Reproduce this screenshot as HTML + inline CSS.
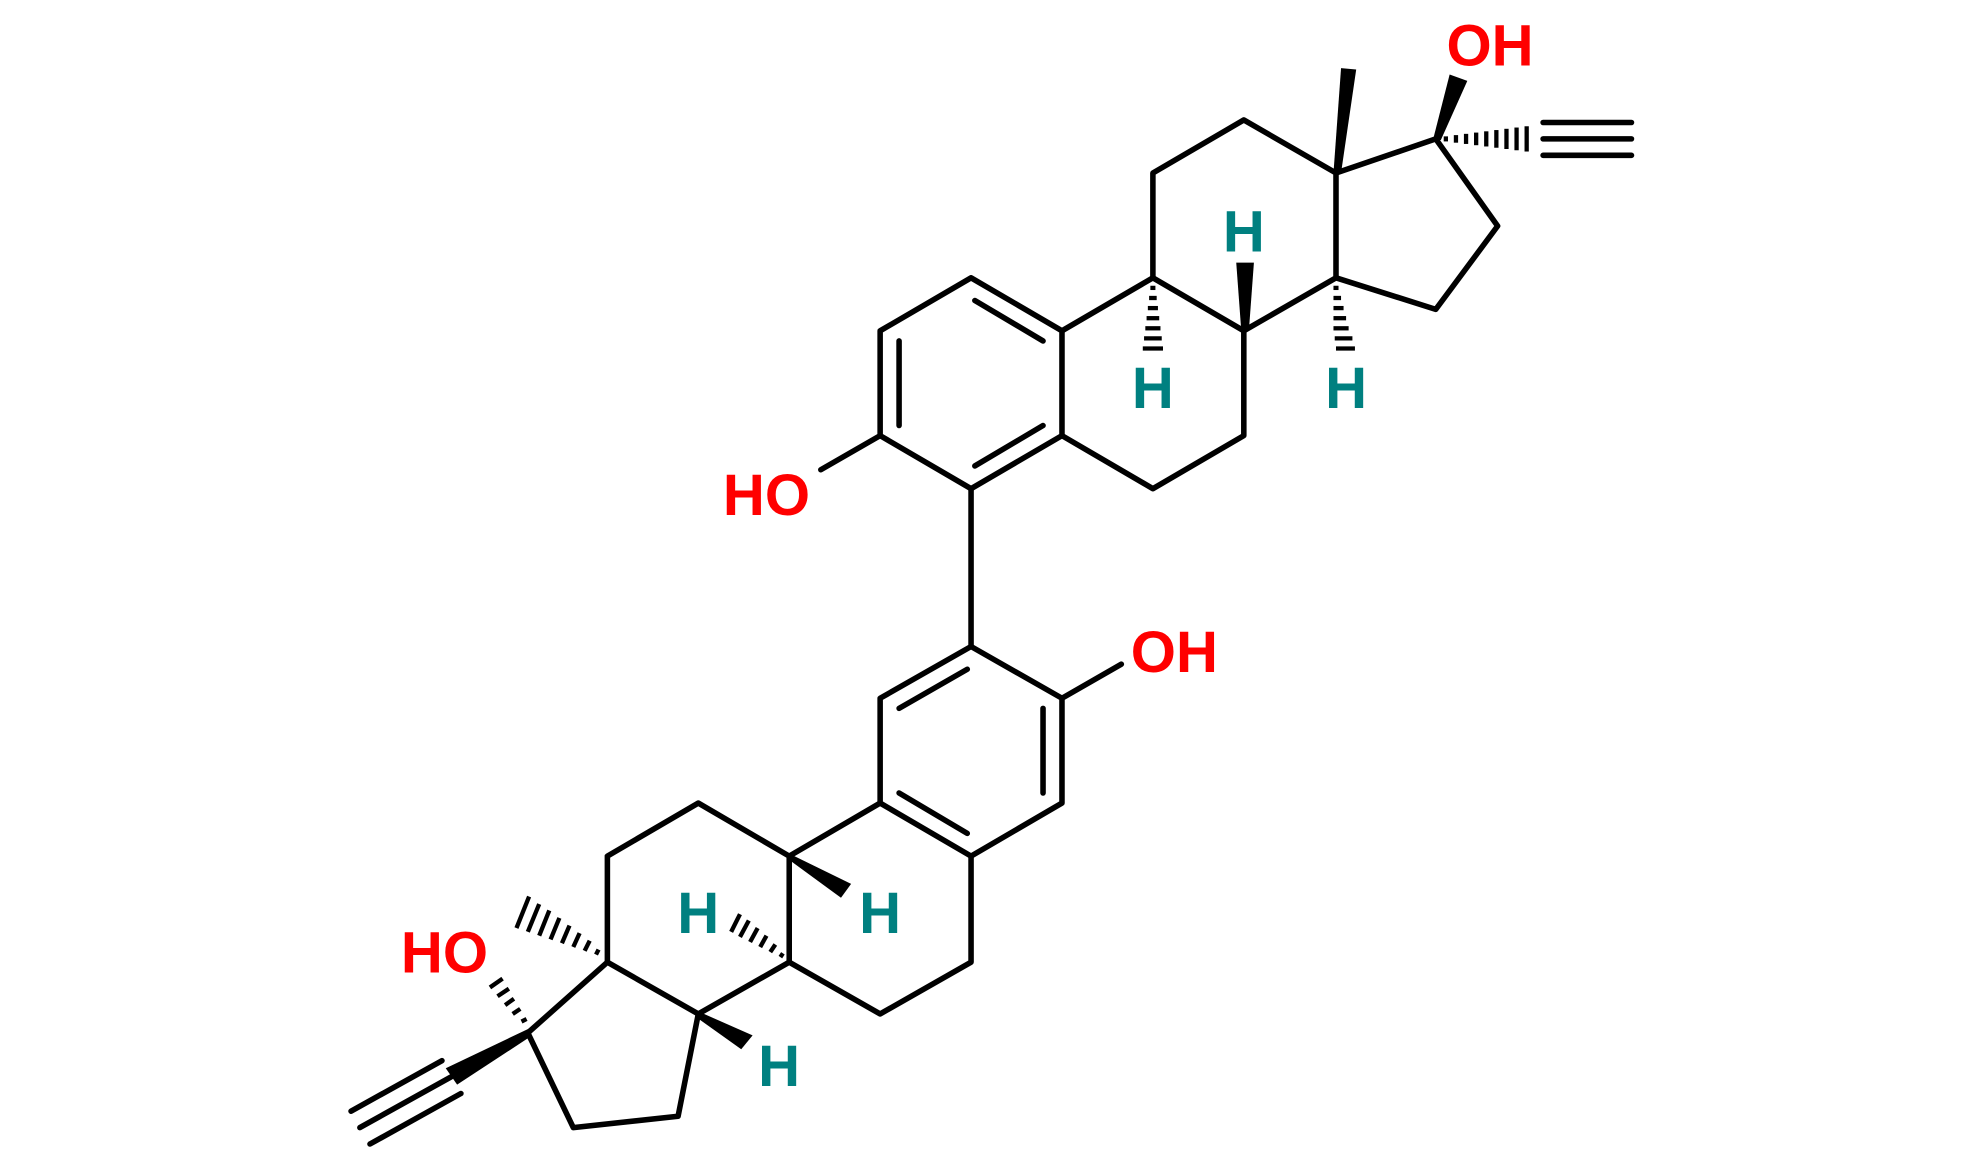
<!DOCTYPE html>
<html><head><meta charset="utf-8"><style>html,body{margin:0;padding:0;background:#fff}svg{display:block}</style></head>
<body>
<svg width="1980" height="1156" viewBox="0 0 1568 915.5" preserveAspectRatio="none" xmlns="http://www.w3.org/2000/svg">
<g stroke="#000" stroke-width="4.4" fill="none" stroke-linecap="round" stroke-linejoin="round">
<polyline points="769,220 697,262 697,345 769,387 841,345 841,262 769,220"/>
<line x1="772" y1="238" x2="826" y2="270"/>
<line x1="712" y1="270" x2="712" y2="337"/>
<line x1="772" y1="369" x2="826" y2="337"/>
<line x1="697" y1="345" x2="650" y2="372"/>
<polyline points="841,262 913,220 985,262 985,345 913,387 841,345"/>
<polyline points="913,220 913,137 985,95 1058,137 1058,220 985,262"/>
<polyline points="1058,137 1137,110 1186,179 1137,245 1058,220"/>
<line x1="1222" y1="97" x2="1292" y2="97"/>
<line x1="1222" y1="110" x2="1292" y2="110"/>
<line x1="1222" y1="123" x2="1292" y2="123"/>
<line x1="769" y1="387" x2="769" y2="512"/>
<polyline points="769,512 841,553 841,636 769,678 697,636 697,553 769,512"/>
<line x1="766" y1="530" x2="712" y2="561"/>
<line x1="826" y1="561" x2="826" y2="628"/>
<line x1="766" y1="660" x2="712" y2="628"/>
<line x1="841" y1="553" x2="888" y2="526"/>
<polyline points="697,636 625,678 625,762 697,803 769,762 769,678"/>
<polyline points="625,678 553,636 481,678 481,762 553,803 625,762"/>
<polyline points="481,762 418,818 454,893 537,884 553,803"/>
<line x1="278" y1="880" x2="350" y2="840"/>
<line x1="285" y1="893" x2="357" y2="853"/>
<line x1="293" y1="906" x2="365" y2="866"/>
</g>
<g fill="#000">
<polygon points="1056,137 1062,137 1074,55 1062,54"/>
<polygon points="1135,110 1141,111 1162,64 1148,59"/>
<polygon points="983,262 989,262 993,208 979,208"/>
<polygon points="625,676 625,681 666,711 674,700"/>
<polygon points="553,801 552,806 587,831 596,820"/>
<polygon points="418,815 420,821 362,859 353,846"/>
</g>
<g stroke="#000" stroke-width="3.4">
<line x1="911" y1="228" x2="915" y2="228"/><line x1="910" y1="236" x2="916" y2="236"/><line x1="909" y1="244" x2="917" y2="244"/><line x1="908" y1="252" x2="918" y2="252"/><line x1="907" y1="260" x2="919" y2="260"/><line x1="906" y1="268" x2="920" y2="268"/><line x1="905" y1="276" x2="921" y2="276"/>
<line x1="1056" y1="228" x2="1060" y2="228"/><line x1="1056" y1="236" x2="1062" y2="236"/><line x1="1056" y1="244" x2="1064" y2="244"/><line x1="1056" y1="252" x2="1066" y2="252"/><line x1="1056" y1="260" x2="1068" y2="260"/><line x1="1057" y1="268" x2="1071" y2="268"/><line x1="1058" y1="276" x2="1073" y2="276"/>
<line x1="1145" y1="108" x2="1145" y2="112"/><line x1="1153" y1="107" x2="1153" y2="113"/><line x1="1161" y1="106" x2="1161" y2="114"/><line x1="1169" y1="105" x2="1169" y2="115"/><line x1="1177" y1="104" x2="1177" y2="116"/><line x1="1185" y1="103" x2="1185" y2="117"/><line x1="1193" y1="102" x2="1193" y2="118"/><line x1="1201" y1="101" x2="1201" y2="119"/><line x1="1209" y1="100" x2="1209" y2="120"/>
<line x1="472" y1="756" x2="474" y2="752"/><line x1="463" y1="753" x2="467" y2="745"/><line x1="454" y1="750" x2="459" y2="739"/><line x1="445" y1="747" x2="451" y2="733"/><line x1="436" y1="744" x2="443" y2="727"/><line x1="427" y1="741" x2="435" y2="721"/><line x1="418" y1="738" x2="427" y2="716"/><line x1="409" y1="735" x2="419" y2="710"/>
<line x1="413" y1="809" x2="417" y2="807"/><line x1="406" y1="803" x2="412" y2="799"/><line x1="400" y1="796" x2="407" y2="791"/><line x1="394" y1="789" x2="403" y2="783"/><line x1="388" y1="782" x2="398" y2="775"/>
<line x1="618" y1="758" x2="620" y2="755"/><line x1="610" y1="754" x2="614" y2="748"/><line x1="602" y1="750" x2="607" y2="741"/><line x1="594" y1="746" x2="600" y2="735"/><line x1="586" y1="742" x2="593" y2="729"/><line x1="579" y1="738" x2="586" y2="724"/>
</g>
<g font-family="Liberation Sans, sans-serif" font-weight="bold" font-size="46" text-anchor="middle">
<text x="1180" y="52" fill="#f00">OH</text>
<text x="607" y="408" fill="#f00">HO</text>
<text x="930" y="532" fill="#f00">OH</text>
<text x="352" y="770" fill="#f00">HO</text>
<text x="985" y="199" fill="#008080">H</text>
<text x="913" y="323" fill="#008080">H</text>
<text x="1066" y="323" fill="#008080">H</text>
<text x="553" y="739" fill="#008080">H</text>
<text x="697" y="739" fill="#008080">H</text>
<text x="617" y="860" fill="#008080">H</text>
</g>
</svg>
</body></html>
